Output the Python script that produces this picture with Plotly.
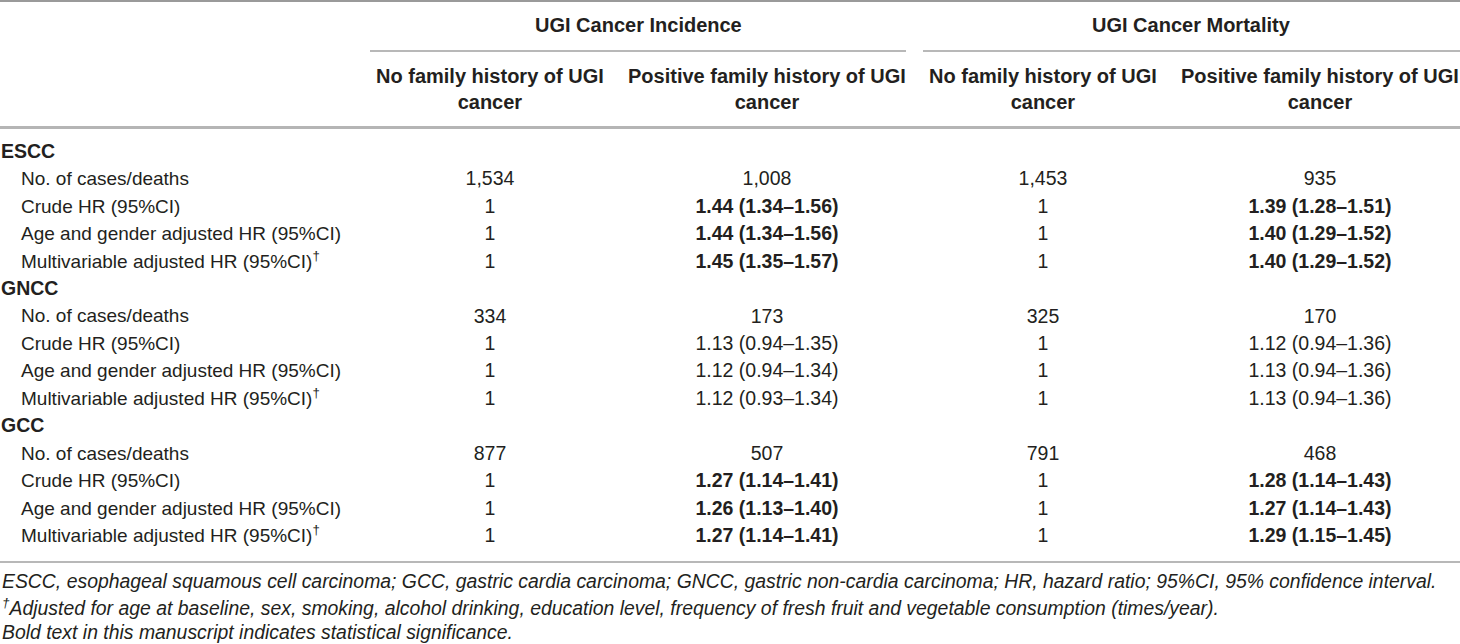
import plotly.graph_objects as go

# ---- table content ----
spanners = ["UGI Cancer Incidence", "UGI Cancer Mortality"]
col_headers = [
    "No family history of UGI<br>cancer",
    "Positive family history of UGI<br>cancer",
    "No family history of UGI<br>cancer",
    "Positive family history of UGI<br>cancer",
]
groups = ["ESCC", "GNCC", "GCC"]
row_labels = [
    "No. of cases/deaths",
    "Crude HR (95%CI)",
    "Age and gender adjusted HR (95%CI)",
    "Multivariable adjusted HR (95%CI)<sup>†</sup>",
]

# values per group, one list per column (rows in row_labels order)
inc_none = {
    "ESCC": ["1,534", "1", "1", "1"],
    "GNCC": ["334", "1", "1", "1"],
    "GCC": ["877", "1", "1", "1"],
}
inc_pos = {
    "ESCC": ["1,008", "1.44 (1.34–1.56)", "1.44 (1.34–1.56)", "1.45 (1.35–1.57)"],
    "GNCC": ["173", "1.13 (0.94–1.35)", "1.12 (0.94–1.34)", "1.12 (0.93–1.34)"],
    "GCC": ["507", "1.27 (1.14–1.41)", "1.26 (1.13–1.40)", "1.27 (1.14–1.41)"],
}
mort_none = {
    "ESCC": ["1,453", "1", "1", "1"],
    "GNCC": ["325", "1", "1", "1"],
    "GCC": ["791", "1", "1", "1"],
}
mort_pos = {
    "ESCC": ["935", "1.39 (1.28–1.51)", "1.40 (1.29–1.52)", "1.40 (1.29–1.52)"],
    "GNCC": ["170", "1.12 (0.94–1.36)", "1.13 (0.94–1.36)", "1.13 (0.94–1.36)"],
    "GCC": ["468", "1.28 (1.14–1.43)", "1.27 (1.14–1.43)", "1.29 (1.15–1.45)"],
}
# statistically significant groups (bold HR rows)
significant = {"ESCC": True, "GNCC": False, "GCC": True}

footnotes = [
    "ESCC, esophageal squamous cell carcinoma; GCC, gastric cardia carcinoma; GNCC, gastric non-cardia carcinoma; HR, hazard ratio; 95%CI, 95% confidence interval.",
    "<sup>†</sup>Adjusted for age at baseline, sex, smoking, alcohol drinking, education level, frequency of fresh fruit and vegetable consumption (times/year).",
    "Bold text in this manuscript indicates statistical significance.",
]

# ---- layout constants ----
W, H = 1460, 644
FONT = "Liberation Sans, Arial, sans-serif"
INK = "#231f20"
col_x = [490, 767, 1043, 1320]
span_x = [(370, 906), (923, 1460)]
row0, row_step = 153, 27.45
label_x, indent_x = 1, 21

fig = go.Figure()

# build body rows
group_x, group_y, group_t = [], [], []
lab_x, lab_y, lab_t = [], [], []
cells = [([], [], []) for _ in range(4)]
i = 0
for g in groups:
    group_y.append(row0 + i * row_step)
    group_x.append(label_x)
    group_t.append("<b>" + g + "</b>")
    i += 1
    for r, lab in enumerate(row_labels):
        y = row0 + i * row_step
        lab_x.append(indent_x)
        lab_y.append(y)
        lab_t.append(lab)
        for c, src in enumerate([inc_none, inc_pos, mort_none, mort_pos]):
            v = src[g][r]
            if c in (1, 3) and r > 0 and significant[g]:
                v = "<b>" + v + "</b>"
            cells[c][0].append(col_x[c])
            cells[c][1].append(y)
            cells[c][2].append(v)
        i += 1

fig.add_trace(go.Scatter(
    x=group_x, y=group_y, text=group_t, mode="text", cliponaxis=False,
    textposition="middle right", textfont=dict(family=FONT, size=19.5, color=INK),
    hoverinfo="skip", showlegend=False))
fig.add_trace(go.Scatter(
    x=lab_x, y=lab_y, text=lab_t, mode="text", cliponaxis=False,
    textposition="middle right", textfont=dict(family=FONT, size=19, color=INK),
    hoverinfo="skip", showlegend=False))
for cx, cy, ct in cells:
    fig.add_trace(go.Scatter(
        x=cx, y=cy, text=ct, mode="text", cliponaxis=False,
        textposition="middle center", textfont=dict(family=FONT, size=19.5, color=INK),
        hoverinfo="skip", showlegend=False))

# header texts
for s, (x0, x1) in zip(spanners, span_x):
    fig.add_annotation(x=(x0 + x1) / 2, y=25, text="<b>" + s + "</b>",
                       showarrow=False, xanchor="center", yanchor="middle",
                       font=dict(family=FONT, size=20, color=INK))
for cx, h in zip(col_x, col_headers):
    fig.add_annotation(x=cx, y=89, text="<b>" + h + "</b>",
                       showarrow=False, xanchor="center", yanchor="middle",
                       align="center",
                       font=dict(family=FONT, size=20, color=INK))

# footnotes
for k, note in enumerate(footnotes):
    fig.add_annotation(x=0, y=581 + k * 25.5, text="<i>" + note + "</i>",
                       showarrow=False, xanchor="left", yanchor="middle",
                       font=dict(family=FONT, size=19.4, color=INK))

# rules
fig.add_shape(type="line", x0=0, x1=W, y0=1, y1=1,
              line=dict(color="#9a9a9a", width=2))
for x0, x1 in span_x:
    fig.add_shape(type="line", x0=x0, x1=x1, y0=51, y1=51,
                  line=dict(color="#a0a0a0", width=1.5))
fig.add_shape(type="line", x0=0, x1=W, y0=127.5, y1=127.5,
              line=dict(color="#b5b5b5", width=3))
fig.add_shape(type="line", x0=0, x1=W, y0=562, y1=562,
              line=dict(color="#a0a0a0", width=1.5))

fig.update_xaxes(range=[0, W], visible=False, fixedrange=True)
fig.update_yaxes(range=[H, 0], visible=False, fixedrange=True)
fig.update_layout(
    width=W, height=H,
    margin=dict(l=0, r=0, t=0, b=0),
    paper_bgcolor="white", plot_bgcolor="white",
)

fig.write_html("out.html", config={"displayModeBar": False},
               post_script="document.body.style.margin='0';")
